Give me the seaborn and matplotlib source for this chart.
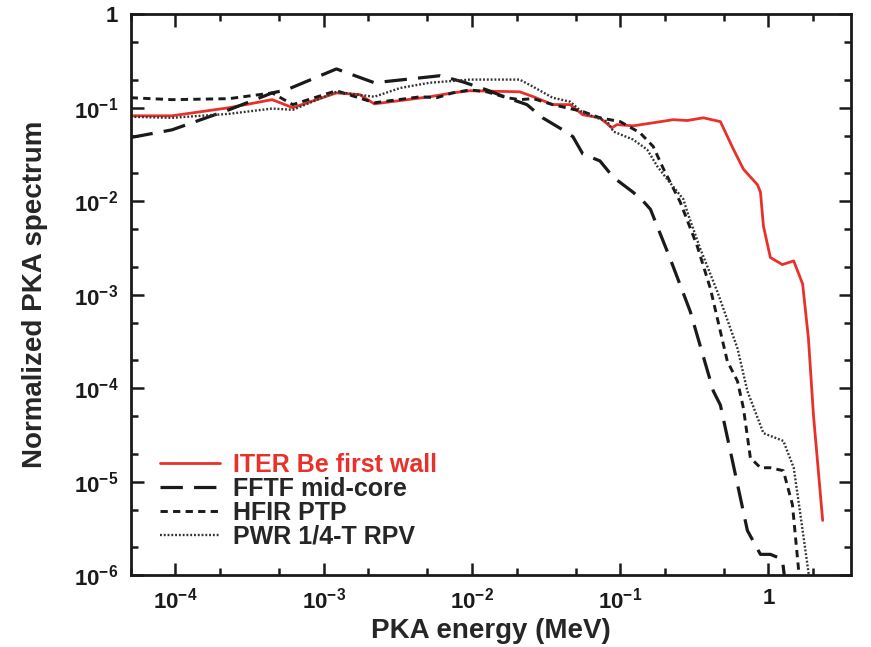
import numpy as np
import pandas as pd
import matplotlib
matplotlib.use('Agg')
import matplotlib.pyplot as plt
import matplotlib.ticker as mticker
import seaborn as sns

# Data (PKA energy in MeV, normalized spectrum)
iter_e = [5e-5, 9.5e-5, 2.3e-4, 4.5e-4, 6.2e-4, 1.22e-3, 1.75e-3, 2.2e-3, 5.2e-3, 7.4e-3,
          9.7e-3, 2.1e-2, 2.6e-2, 3.5e-2, 4.6e-2, 5.6e-2, 7.3e-2, 8.8e-2, 9.5e-2, 0.122,
          0.167, 0.228, 0.284, 0.364, 0.474, 0.58, 0.678, 0.843, 0.883, 0.925,
          1.03, 1.24, 1.48, 1.70, 1.86, 2.01, 2.32]
iter_s = [0.082, 0.082, 0.10, 0.122, 0.10, 0.144, 0.138, 0.11, 0.131, 0.144,
          0.152, 0.148, 0.131, 0.108, 0.108, 0.084, 0.078, 0.061, 0.066, 0.064,
          0.069, 0.0745, 0.073, 0.078, 0.071, 0.036, 0.022, 0.015, 0.0125, 0.0054,
          0.0025, 0.0021, 0.0023, 0.0013, 3.4e-4, 5.2e-5, 3.85e-6]

fftf_e = [5e-5, 9.5e-5, 2.3e-4, 4.5e-4, 5.6e-4, 1.22e-3, 2.2e-3, 5.2e-3, 6.1e-3, 8.7e-3,
          1.26e-2, 1.72e-2, 2.35e-2, 3.0e-2, 4.1e-2, 4.8e-2, 5.6e-2, 7.3e-2, 9.0e-2, 0.122,
          0.143, 0.16, 0.218, 0.297, 0.425, 0.474, 0.58, 0.721, 0.883, 1.03,
          1.24, 1.30]
fftf_s = [0.048, 0.058, 0.095, 0.144, 0.155, 0.26, 0.185, 0.214, 0.22, 0.189,
          0.155, 0.128, 0.108, 0.078, 0.058, 0.049, 0.032, 0.027, 0.018, 0.0125,
          0.010, 0.0082, 0.0024, 6.6e-4, 9.3e-5, 6.6e-5, 1.5e-5, 3.0e-6, 1.67e-6, 1.67e-6,
          1.48e-6, 8e-7]

hfir_e = [5e-5, 9.5e-5, 2.3e-4, 4.5e-4, 6.2e-4, 1.22e-3, 2.2e-3, 4.5e-3, 5.8e-3, 7.4e-3,
          9.7e-3, 1.26e-2, 1.72e-2, 2.1e-2, 2.6e-2, 3.5e-2, 5.6e-2, 7.3e-2, 0.1, 0.136,
          0.167, 0.195, 0.254, 0.331, 0.406, 0.528, 0.618, 0.678, 0.755, 0.883,
          1.03, 1.26, 1.45, 1.60, 1.62]
hfir_s = [0.128, 0.122, 0.125, 0.144, 0.108, 0.152, 0.113, 0.131, 0.128, 0.144,
          0.155, 0.148, 0.128, 0.122, 0.125, 0.108, 0.091, 0.078, 0.071, 0.054,
          0.0385, 0.0225, 0.0098, 0.0033, 0.00116, 1.94e-4, 1.19e-4, 6.1e-5, 1.8e-5, 1.41e-5,
          1.41e-5, 1.31e-5, 5.7e-6, 1.1e-6, 8e-7]

pwr_e = [5e-5, 9.5e-5, 2.3e-4, 4.5e-4, 6.2e-4, 1.22e-3, 2.2e-3, 3.3e-3, 5.2e-3, 9.7e-3,
         2.1e-2, 2.6e-2, 3.5e-2, 4.6e-2, 5.6e-2, 8.2e-2, 9.0e-2, 0.122, 0.152, 0.178,
         0.208, 0.267, 0.284, 0.347, 0.452, 0.618, 0.721, 0.925, 1.26, 1.48,
         1.64, 1.86, 1.90]
pwr_s = [0.080, 0.078, 0.086, 0.098, 0.095, 0.148, 0.131, 0.163, 0.185, 0.20,
         0.20, 0.167, 0.128, 0.116, 0.0885, 0.071, 0.0556, 0.0457, 0.0357, 0.0236,
         0.0171, 0.0105, 0.0076, 0.0031, 0.00108, 2.67e-4, 9.3e-5, 3.3e-5, 2.73e-5, 1.41e-5,
         4.5e-6, 1.08e-6, 8e-7]

labels = ['ITER Be first wall', 'FFTF mid-core', 'HFIR PTP', 'PWR 1/4-T RPV']

sns.set_style('ticks')
plt.rcParams['font.family'] = ['Liberation Sans', 'DejaVu Sans']
plt.rcParams['font.weight'] = 'bold'
plt.rcParams['mathtext.fontset'] = 'custom'
plt.rcParams['mathtext.rm'] = 'Liberation Sans:bold'
plt.rcParams['mathtext.it'] = 'Liberation Sans:bold'
plt.rcParams['mathtext.bf'] = 'Liberation Sans:bold'

fig = plt.figure(figsize=(8.71, 6.47), dpi=100)
ax = fig.add_axes([0.150, 0.111, 0.827, 0.867])

red = '#e8312a'
sns.lineplot(x=iter_e, y=iter_s, ax=ax, color=red, lw=2.0, label=labels[0], sort=False)
sns.lineplot(x=fftf_e, y=fftf_s, ax=ax, color='#1a1a1a', lw=2.3, label=labels[1],
             sort=False, dashes=False)
sns.lineplot(x=hfir_e, y=hfir_s, ax=ax, color='#1a1a1a', lw=2.1, label=labels[2],
             sort=False, dashes=False)
sns.lineplot(x=pwr_e, y=pwr_s, ax=ax, color='#333333', lw=1.7, label=labels[3],
             sort=False, dashes=False)
lines = ax.get_lines()
lines[1].set_dashes([7, 3.5])
lines[2].set_dashes([2.5, 1.8])
lines[3].set_dashes([0.8, 0.8])

ax.set_xscale('log')
ax.set_yscale('log')
ax.set_xlim(5e-5, 3.6)
ax.set_ylim(1e-6, 1)

ax.xaxis.set_major_locator(mticker.LogLocator(base=10, numticks=20))
ax.xaxis.set_minor_locator(mticker.LogLocator(base=10, subs=[2, 5], numticks=20))
ax.yaxis.set_major_locator(mticker.LogLocator(base=10, numticks=20))
ax.yaxis.set_minor_locator(mticker.LogLocator(base=10, subs=[2, 5], numticks=20))


def fmt(v, pos):
    e = int(round(np.log10(v)))
    if e == 0:
        return '1'
    return r'$10^{%d}$' % e


ax.xaxis.set_major_formatter(mticker.FuncFormatter(fmt))
ax.yaxis.set_major_formatter(mticker.FuncFormatter(fmt))
ax.xaxis.set_minor_formatter(mticker.NullFormatter())
ax.yaxis.set_minor_formatter(mticker.NullFormatter())

ax.tick_params(which='both', direction='in', top=True, right=True, width=1.8,
               labelsize=16, colors='#1a1a1a')
ax.tick_params(which='major', length=9, pad=9)
ax.tick_params(which='minor', length=5)
for sp in ax.spines.values():
    sp.set_linewidth(2)
    sp.set_color('#1a1a1a')

ax.set_xlabel('PKA energy (MeV)', fontsize=20, fontweight='bold')
ax.set_ylabel('Normalized PKA spectrum', fontsize=20, fontweight='bold')
ax.xaxis.set_label_coords(0.5, -0.076)
ax.yaxis.set_label_coords(-0.115, 0.5)

leg = ax.legend(loc='lower left', bbox_to_anchor=(0.017, 0.016), frameon=False,
                fontsize=18, handlelength=2.4, labelspacing=0.0, handletextpad=0.5,
                borderaxespad=0.3)
for txt in leg.get_texts():
    txt.set_fontweight('bold')
leg.get_texts()[0].set_color(red)

fig.savefig('out.png', dpi=100)
